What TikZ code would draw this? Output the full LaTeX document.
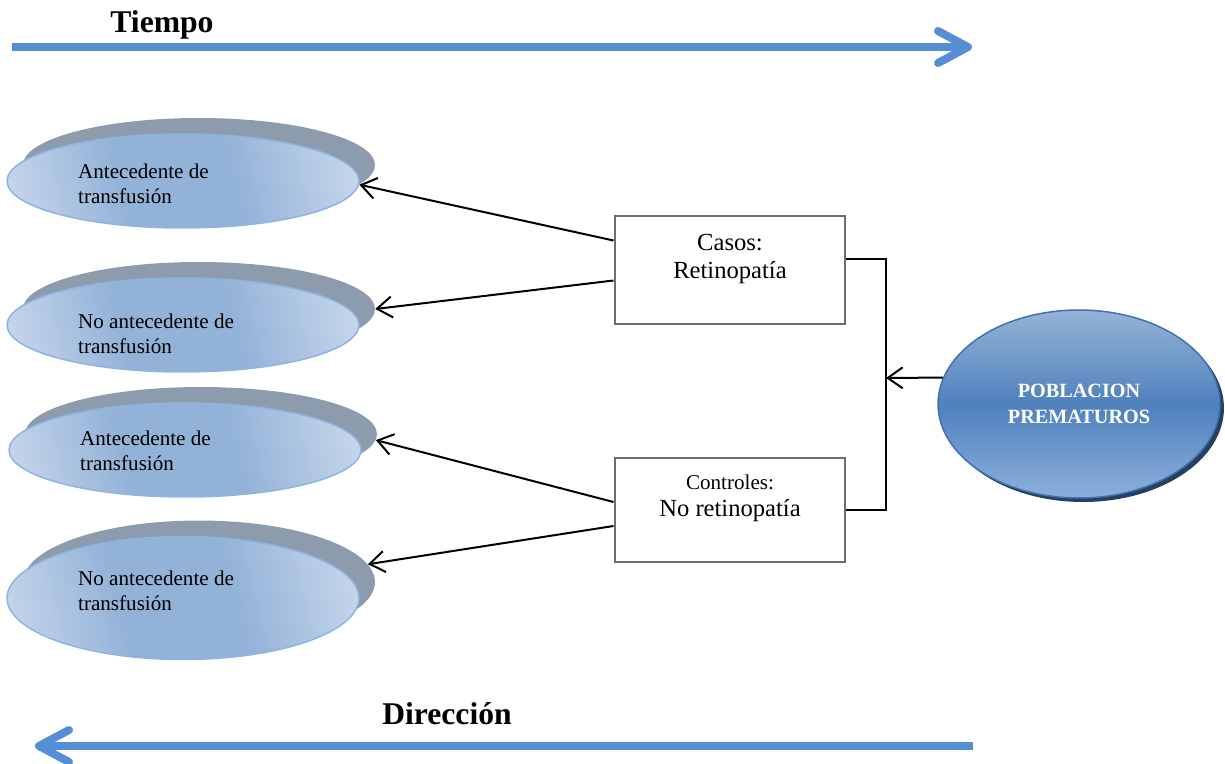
\documentclass[tikz,border=0pt]{standalone}
\usepackage{fontspec}
\setmainfont{Liberation Serif}
\usetikzlibrary{positioning,shapes.geometric,arrows.meta}
\definecolor{axisblue}{RGB}{85,142,213}
\definecolor{ellLight}{RGB}{222,231,243}
\definecolor{ellMid}{RGB}{147,178,216}
\definecolor{ellEdge}{RGB}{141,180,227}
\definecolor{shadowgray}{RGB}{141,156,173}
\definecolor{boxgray}{RGB}{110,110,110}
\definecolor{pobTop}{RGB}{149,179,215}
\definecolor{pobMid}{RGB}{79,129,189}
\definecolor{pobBot}{RGB}{141,176,220}
\definecolor{pobEdge}{RGB}{65,113,176}
\definecolor{pobShadow}{RGB}{36,64,98}
\pgfdeclarehorizontalshading{antshade}{100bp}{color(0bp)=(ellLight); color(12bp)=(ellLight); color(40bp)=(ellMid); color(58bp)=(ellMid); color(88bp)=(ellLight); color(100bp)=(ellLight)}
\begin{document}
\begin{tikzpicture}[x=0.02cm,y=-0.02cm,
	>={Straight Barb[length=0.3cm,width=0.42cm]},
	axis/.style={draw=axisblue,line width=0.16cm,-{Straight Barb[length=0.6cm,width=0.64cm,round]}},
	titulo/.style={font=\bfseries\fontsize{18}{22}\selectfont},
	sombra/.style={ellipse,fill=shadowgray,minimum width=7.04cm,minimum height=1.88cm},
	antec/.style={ellipse,draw=ellEdge,line width=0.03cm,shading=antshade,shading angle=14,minimum width=7.04cm,minimum height=1.88cm},
	txt/.style={anchor=west,align=left,font=\fontsize{12}{14}\selectfont},
	caja/.style={draw=boxgray,line width=0.04cm,minimum width=4.62cm,minimum height=2.18cm},
	conn/.style={line width=0.04cm}]
	\useasboundingbox (0,0) rectangle (1225,764);
	% ejes de tiempo y direccion
	\node[titulo] (tiempo) at (162,25) {Tiempo};
	\draw[axis] (12,47)--(972,47);
	\node[titulo] (direccion) at (447,714) {Dirección};
	\draw[axis] (973,746)--(35,746);
	% elipses de la izquierda
	\node[sombra] (sh1) at (199,165) {};
	\node[antec] (ant1) at (183,181) {};
	\node[txt] (t1) at (72,184) {Antecedente de\\transfusión};
	\node[sombra] (sh2) at (199,309) {};
	\node[antec] (ant2) at (183,325) {};
	\node[txt] (t2) at (72,334) {No antecedente de\\transfusión};
	\node[sombra] (sh3) at (201,434) {};
	\node[antec] (ant3) at (185,450) {};
	\node[txt] (t3) at (74,451) {Antecedente de\\transfusión};
	\node[sombra,minimum height=2.46cm] (sh4) at (199,582) {};
	\node[antec,minimum height=2.46cm] (ant4) at (183,598) {};
	\node[txt] (t4) at (72,591) {No antecedente de\\transfusión};
	% casos y controles
	\node[caja] (casos) at (730,270) {};
	\node[below=0.26cm of casos.north,align=center,font=\fontsize{14}{16}\selectfont] (casosTxt) {Casos:\\Retinopatía};
	\node[caja,minimum height=2.08cm] (controles) at (730,510) {};
	\node[below=0.24cm of controles.north,align=center,font=\fontsize{14}{15.4}\selectfont] (controlesTxt) {{\fontsize{12}{15.4}\selectfont Controles:}\\No retinopatía};
	% poblacion
	\node[ellipse,fill=pobShadow,minimum width=5.64cm,minimum height=3.76cm] (pobSh) at (1083,408) {};
	\node[ellipse,draw=pobEdge,line width=0.03cm,top color=pobTop,bottom color=pobBot,middle color=pobMid,minimum width=5.64cm,minimum height=3.76cm,align=center,text=white,font=\bfseries\fontsize{11.5}{14.8}\selectfont] (pob) at (1079,404) {POBLACION\\PREMATUROS};
	% conectores
	\coordinate (brk) at (886,378);
	\draw[conn] ([yshift=0.23cm]casos.east) -| (brk) |- (controles.east);
	\draw[conn,->] (pob.169)--(brk);
	\draw[conn,->] ([yshift=0.59cm]casos.west)--(sh1.-7);
	\draw[conn,->] ([yshift=-0.21cm]casos.west)--(sh2.east);
	\draw[conn,->] ([yshift=0.16cm]controles.west)--(sh3.-2);
	\draw[conn,->] ([yshift=-0.32cm]controles.west)--(sh4.6);
\end{tikzpicture}
\end{document}
